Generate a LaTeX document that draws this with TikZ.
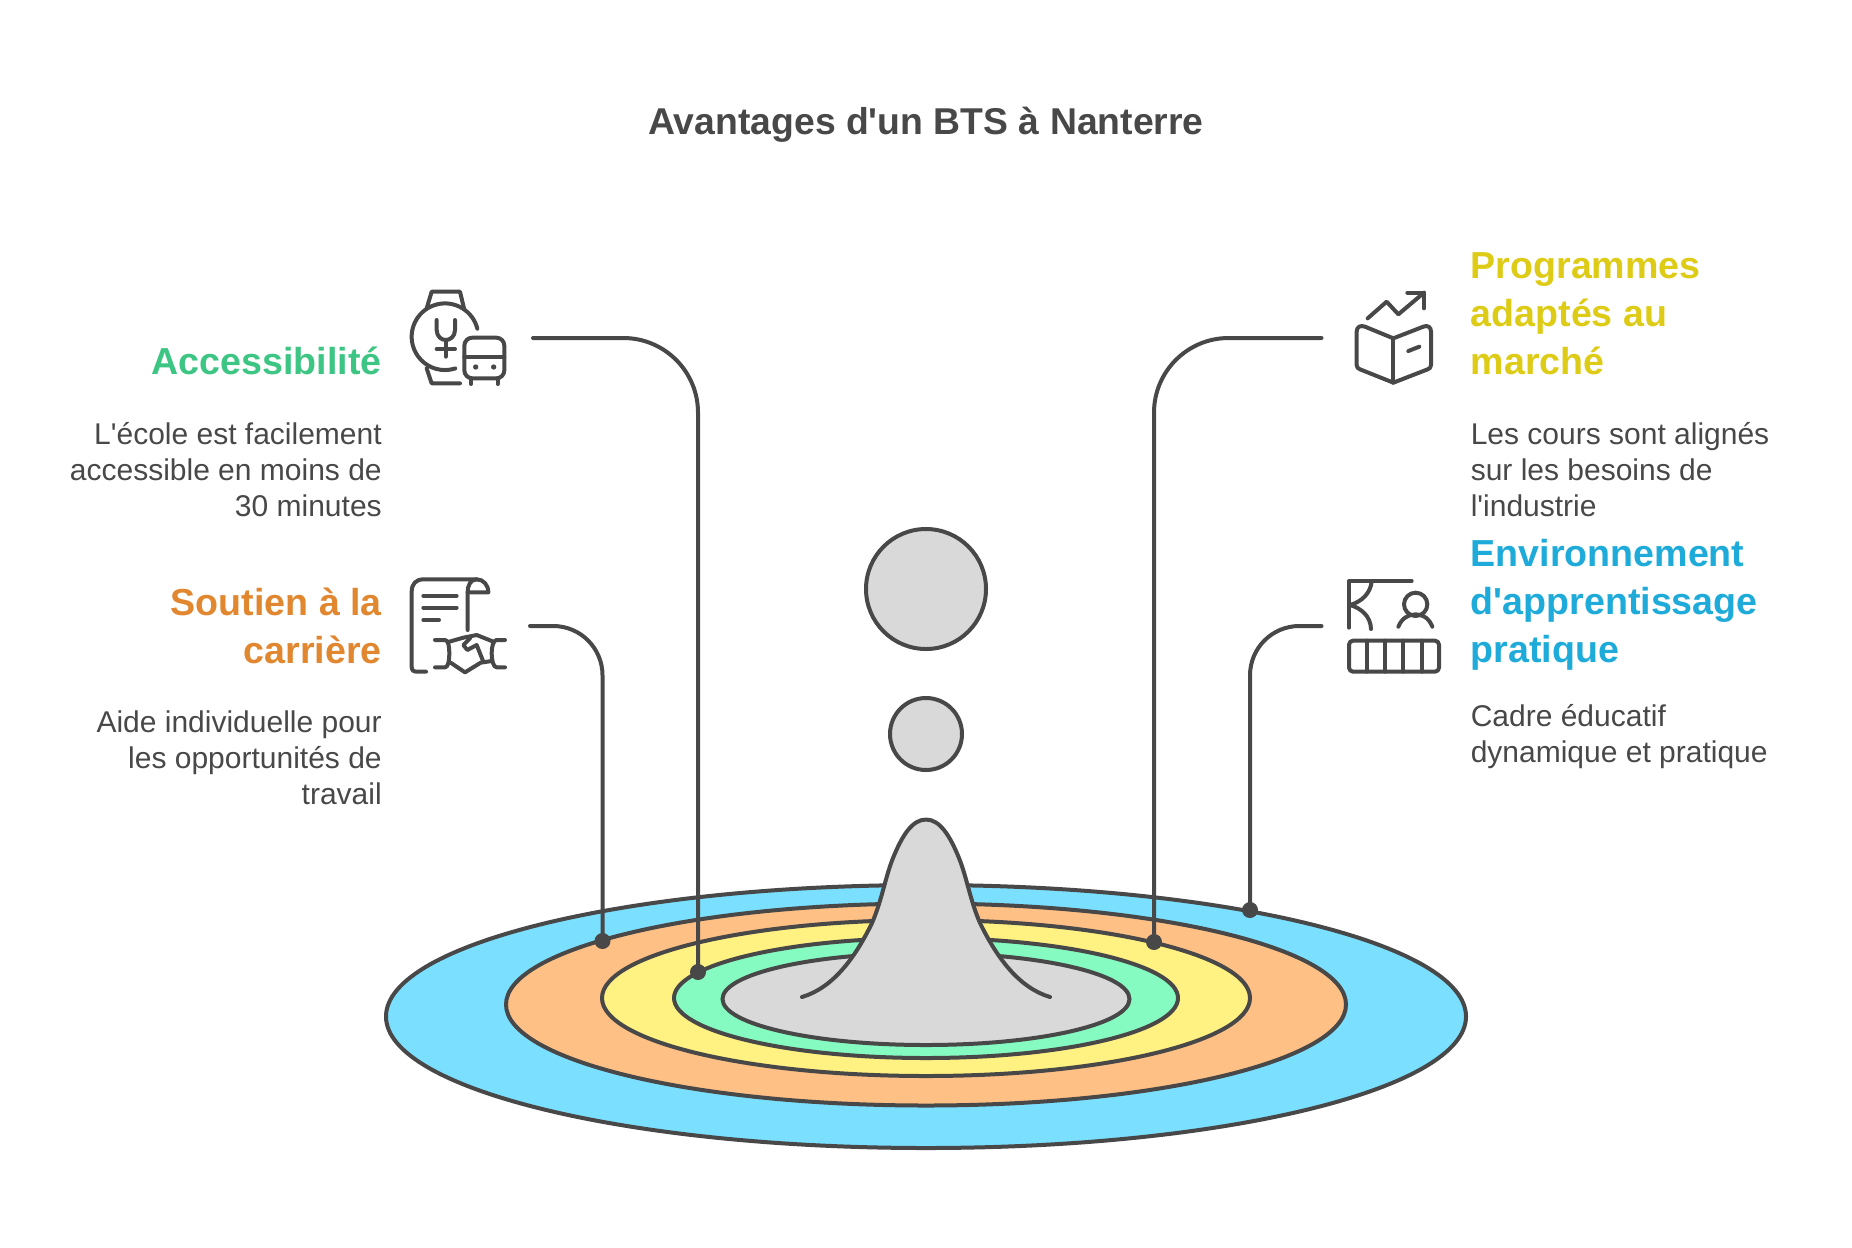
\documentclass[tikz,border=0pt]{standalone}
\usepackage{xcolor}
\usepackage{fontspec}
\setmainfont{Liberation Sans}
\usepackage{tikz}
\definecolor{inkgrey}{HTML}{484848}
\definecolor{discblue}{HTML}{7BDFFF}
\definecolor{discorange}{HTML}{FFC085}
\definecolor{discyellow}{HTML}{FFF182}
\definecolor{discgreen}{HTML}{86FBC1}
\definecolor{discgrey}{HTML}{D9D9D9}
\definecolor{headgreen}{HTML}{3CC583}
\definecolor{headorange}{HTML}{E18730}
\definecolor{headyellow}{HTML}{DECB16}
\definecolor{headblue}{HTML}{1EABDA}
\tikzset{
	disc/.style={draw=inkgrey, line width=3pt},
	stroke/.style={draw=inkgrey, line width=3pt, line cap=round, line join=round},
	conn/.style={draw=inkgrey, line width=3pt, line cap=round},
	dotmark/.style={circle, fill=inkgrey, inner sep=0pt, minimum size=12pt},
	ball/.style={circle, draw=inkgrey, fill=discgrey, line width=3pt, inner sep=0pt},
	lhead/.style={anchor=north east, align=right, inner sep=0pt, font=\fontsize{28.2}{36}\selectfont\bfseries},
	rhead/.style={anchor=north west, align=left, inner sep=0pt, font=\fontsize{28.2}{36}\selectfont\bfseries},
	lbody/.style={anchor=north east, align=right, inner sep=0pt, text=inkgrey, font=\fontsize{22.5}{27}\selectfont},
	rbody/.style={anchor=north west, align=left, inner sep=0pt, text=inkgrey, font=\fontsize{22.5}{27}\selectfont}
}
\begin{document}
\begin{tikzpicture}[x=0.75pt, y=-0.75pt]
	\useasboundingbox (0,0) rectangle (1852,1247);

	\node[inner sep=0pt, text=inkgrey, font=\fontsize{28}{36}\selectfont\bfseries] (title) at (926,124.5) {Avantages d\textquotesingle un BTS à Nanterre};

	% discs
	\draw[disc, fill=discblue] (926,1016.5) ellipse (540 and 131.5);
	\draw[disc, fill=discorange] (926,1004.5) ellipse (420 and 101);
	\draw[disc, fill=discyellow] (926,998) ellipse (324 and 78);
	\draw[disc, fill=discgreen] (926,998) ellipse (252 and 60);
	\draw[disc, fill=discgrey] (926,999) ellipse (203.5 and 46);

	% drop above the discs
	\fill[discgrey] (802,997) .. controls (832,988) and (854,960) .. (872,923) .. controls (882,900) and (885,878) .. (893,858) .. controls (902,836) and (912,819.5) .. (926,819.5) .. controls (940,819.5) and (950,836) .. (959,858) .. controls (967,878) and (970,900) .. (980,923) .. controls (998,960) and (1020,988) .. (1050,997) -- cycle;
	\draw[stroke] (802,997) .. controls (832,988) and (854,960) .. (872,923) .. controls (882,900) and (885,878) .. (893,858) .. controls (902,836) and (912,819.5) .. (926,819.5) .. controls (940,819.5) and (950,836) .. (959,858) .. controls (967,878) and (970,900) .. (980,923) .. controls (998,960) and (1020,988) .. (1050,997);
	\node[ball, minimum size=54pt] (smallball) at (926,734) {};
	\node[ball, minimum size=90pt] (bigball) at (926,589) {};

	% connectors
	\coordinate (accstart) at (533,338);
	\coordinate (soustart) at (530,626);
	\coordinate (prostart) at (1321.5,338);
	\coordinate (envstart) at (1321.5,626);
	\node[dotmark] (accdot) at (698,972) {};
	\node[dotmark] (soudot) at (602.5,941) {};
	\node[dotmark] (prodot) at (1154,942) {};
	\node[dotmark] (envdot) at (1250,910) {};
	\draw[conn, rounded corners=56pt] (accstart) -| (accdot.center);
	\draw[conn, rounded corners=37pt] (soustart) -| (soudot.center);
	\draw[conn, rounded corners=56pt] (prostart) -| (prodot.center);
	\draw[conn, rounded corners=37pt] (envstart) -| (envdot.center);

	% left texts
	\node[lhead, text=headgreen] (acchead) at (382,347) {Accessibilité};
	\node[lbody] (accbody) at (382,422) {L\textquotesingle école est facilement\\accessible en moins de\\30 minutes};
	\node[lhead, text=headorange] (souhead) at (382,588) {Soutien à la\\carrière};
	\node[lbody] (soubody) at (382,710) {Aide individuelle pour\\les opportunités de\\travail};

	% right texts
	\node[rhead, text=headyellow] (prohead) at (1470.5,252) {Programmes\\adaptés au\\marché};
	\node[rbody] (probody) at (1470.5,422) {Les cours sont alignés\\sur les besoins de\\l\textquotesingle industrie};
	\node[rhead, text=headblue] (envhead) at (1470.5,539) {Environnement\\d\textquotesingle apprentissage\\pratique};
	\node[rbody] (envbody) at (1470.5,704) {Cadre éducatif\\dynamique et pratique};

	% watch and bus
	\begin{scope}[shift={(380,270)}, scale=1/3]
		\draw[stroke] (292,176) arc (-14:-288:100);
		\draw[stroke] (140,115) -- (155,65) -- (240,65) -- (252,115);
		\draw[stroke] (140,295) -- (155,340) -- (240,340);
		\draw[stroke] (170,150) -- (170,180) .. controls (170,200) and (185,210) .. (197,210) .. controls (210,210) and (225,200) .. (225,180) -- (225,150);
		\draw[stroke] (197,210) -- (197,260);
		\draw[stroke] (170,237) -- (225,237);
		\draw[stroke, rounded corners=6pt] (253,203) rectangle (373,325);
		\draw[stroke] (253,262) -- (373,262);
		\fill[inkgrey] (287,291) circle (8);
		\fill[inkgrey] (341,291) circle (8);
		\draw[stroke] (273,325) -- (273,342);
		\draw[stroke] (353,325) -- (353,342);
	\end{scope}

	% contract and handshake
	\begin{scope}[shift={(380,560)}, scale=1/3]
		\draw[stroke] (138,335) -- (110,335) .. controls (100,335) and (95,330) .. (95,320) -- (95,95) .. controls (95,72) and (108,58) .. (130,58) -- (290,58) .. controls (310,58) and (325,75) .. (325,97) -- (263,97);
		\draw[stroke] (290,58) .. controls (272,58) and (263,75) .. (263,97) -- (263,210);
		\draw[stroke] (130,107) -- (230,107);
		\draw[stroke] (130,143) -- (230,143);
		\draw[stroke] (130,180) -- (177,180);
		\draw[stroke] (165,240) -- (195,240) .. controls (205,240) and (208,260) .. (208,280) .. controls (208,300) and (205,322) .. (195,322) -- (165,322);
		\draw[stroke] (375,240) -- (350,240) .. controls (340,240) and (335,260) .. (335,280) .. controls (335,300) and (340,322) .. (350,322) -- (375,322);
		\draw[stroke] (208,245) -- (250,233) -- (290,225) -- (335,243);
		\draw[stroke] (212,308) -- (255,337) -- (302,308) -- (335,303);
		\draw[stroke] (270,235) -- (250,255) -- (262,270) -- (290,255) -- (308,300);
	\end{scope}

	% book with rising arrow
	\begin{scope}[shift={(1330,270)}, scale=1/3]
		\draw[stroke] (113,145) -- (170,95) -- (205,133) -- (282,68);
		\draw[stroke] (232,68) -- (282,68) -- (282,115);
		\draw[stroke] (190,205) -- (105,170) .. controls (92,165) and (80,170) .. (80,185) -- (80,285) .. controls (80,292) and (84,296) .. (90,298) -- (190,338) -- (293,298) .. controls (299,296) and (303,292) .. (303,285) -- (303,185) .. controls (303,170) and (292,165) .. (280,170) -- cycle;
		\draw[stroke] (190,205) -- (190,338);
		\draw[stroke] (235,243) -- (268,230);
	\end{scope}

	% teacher and class
	\begin{scope}[shift={(1330,560)}, scale=1/3]
		\draw[stroke] (245,63) -- (57,63) -- (57,203);
		\draw[stroke] (125,63) .. controls (122,100) and (95,125) .. (60,135) .. controls (95,145) and (122,170) .. (123,207);
		\draw[stroke] (257,133) circle (35);
		\draw[stroke] (205,200) .. controls (215,175) and (235,163) .. (257,163) .. controls (279,163) and (297,175) .. (307,200);
		\draw[stroke, rounded corners=3pt] (57,242) rectangle (327,335);
		\draw[stroke] (110,242) -- (110,335);
		\draw[stroke] (165,242) -- (165,335);
		\draw[stroke] (220,242) -- (220,335);
		\draw[stroke] (275,242) -- (275,335);
	\end{scope}
\end{tikzpicture}
\end{document}
